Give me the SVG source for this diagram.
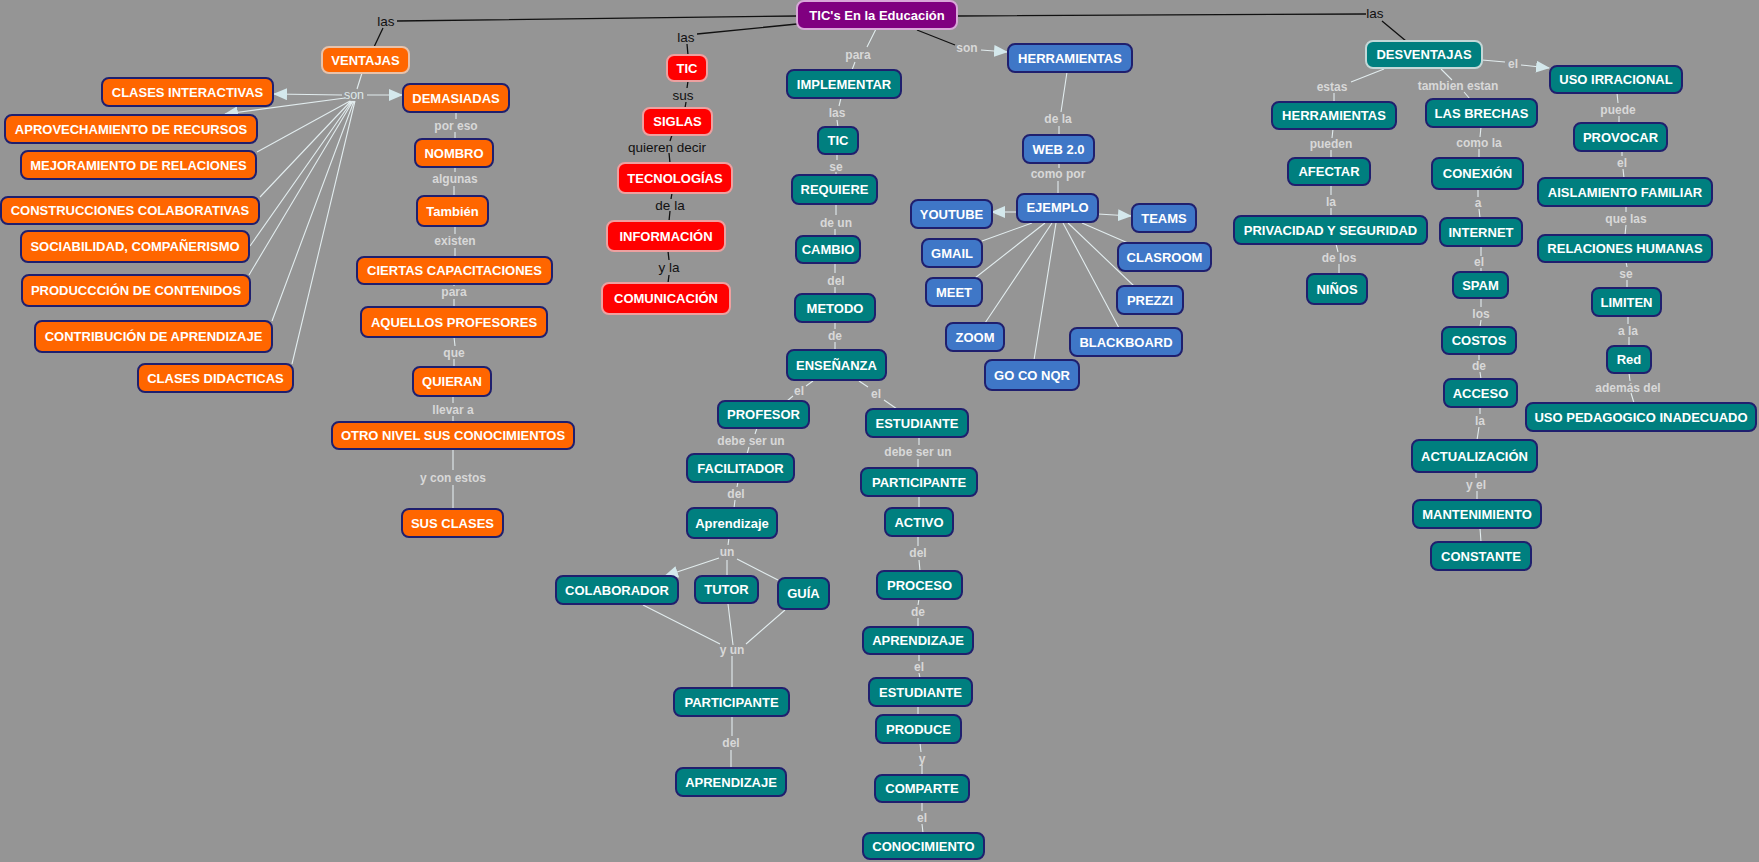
<svg xmlns="http://www.w3.org/2000/svg" width="1759" height="862" viewBox="0 0 1759 862">
<style>
.bg{fill:#959595}
rect{stroke:#1f1f6e;stroke-width:2}
.o rect{fill:#ff6600}
.t rect{fill:#007f7f}
.b rect{fill:#3f77c7}
.r rect{fill:#ff0000;stroke:#eea0a0}
.p rect{fill:#800080;stroke:#d8a8d8}
.mo rect{stroke:#e8c2aa}
.mt rect{stroke:#c4d8d8}
text{font-family:"Liberation Sans",Arial,sans-serif}
.n text{fill:#ffffff;font-size:13px;font-weight:bold;text-anchor:middle}
.l{fill:#d8d8d8;font-size:12px;font-weight:bold;text-anchor:middle}
.k{fill:#111111;font-size:13.5px;text-anchor:middle}
.w{stroke:#e2ecee;stroke-width:1.1;fill:none}
.d{stroke:#111111;stroke-width:1.3;fill:none}
.a{marker-end:url(#ah)}
</style>
<defs>
<marker id="ah" markerUnits="userSpaceOnUse" markerWidth="14" markerHeight="12" refX="13" refY="6" orient="auto">
<path d="M0,0 L14,6 L0,12 z" fill="#d4e8ec"/>
</marker>
</defs>
<rect class="bg" x="0" y="0" width="1759" height="862" style="stroke:none"/>

<g id="connectors">
<!-- black -->
<path class="d" d="M797,16 L397,21 M383,28 L374,47"/>
<path class="d" d="M797,24 L697,34 M687,44 L688,55"/>
<path class="d" d="M688,81 L687,88 M686,102 L685,108"/>
<path class="d" d="M672,135 L670,141 M669,153 L670,163"/>
<path class="d" d="M672,193 L671,199 M670,211 L669,221"/>
<path class="d" d="M668,251 L669,260 M669,275 L668,283"/>
<path class="d" d="M957,16 L1366,14 M1382,21 L1406,41"/>
<path class="d" d="M917,30 L955,45"/>
<text class="k" x="386" y="26">las</text>
<text class="k" x="686" y="42">las</text>
<text class="k" x="683" y="100">sus</text>
<text class="k" x="667" y="152">quieren decir</text>
<text class="k" x="670" y="210">de la</text>
<text class="k" x="669" y="272">y la</text>
<text class="k" x="1375" y="18">las</text>

<!-- VENTAJAS -->
<path class="w" d="M362,73 L357,89"/>
<path class="w a" d="M342,95 L274,94"/>
<path class="w a" d="M367,95 L402,95"/>
<path class="w a" d="M345,98 L225,114"/>
<path class="w" d="M350,101 L257,152 M351,101 L260,197 M352,101 L250,246 M353,101 L249,275 M354,101 L272,321 M355,101 L292,364"/>
<text class="l" x="354" y="99" style="fill:#dde8ea;font-weight:normal;font-size:12.5px">son</text>
<path class="w" d="M456,112 L456,119 M455,132 L455,139"/>
<text class="l" x="456" y="130">por eso</text>
<path class="w" d="M455,167 L455,172 M454,186 L454,196"/>
<text class="l" x="455" y="183">algunas</text>
<path class="w" d="M455,226 L455,234 M455,248 L455,257"/>
<text class="l" x="455" y="245">existen</text>
<path class="w" d="M454,283 L454,286 M454,299 L454,307"/>
<text class="l" x="454" y="296">para</text>
<path class="w" d="M454,337 L455,346 M454,359 L454,367"/>
<text class="l" x="454" y="357">que</text>
<path class="w" d="M453,396 L453,403 M453,416 L453,422"/>
<text class="l" x="453" y="414">llevar a</text>
<path class="w" d="M453,449 L453,470 M453,485 L453,509"/>
<text class="l" x="453" y="482">y con estos</text>

<!-- middle -->
<path class="w" d="M876,29 L867,47 M855,62 L852,70"/>
<text class="l" x="858" y="59">para</text>
<path class="w" d="M841,98 L839,106 M837,120 L838,127"/>
<text class="l" x="837" y="117">las</text>
<path class="w" d="M837,154 L837,160 M836,172 L836,175"/>
<text class="l" x="836" y="171">se</text>
<path class="w" d="M836,204 L836,215 M835,229 L835,236"/>
<text class="l" x="836" y="227">de un</text>
<path class="w" d="M835,263 L835,273 M835,287 L835,294"/>
<text class="l" x="836" y="285">del</text>
<path class="w" d="M835,322 L835,329 M835,342 L835,350"/>
<text class="l" x="835" y="340">de</text>
<path class="w" d="M813,381 L806,386 M793,396 L787,401"/>
<text class="l" x="799" y="395">el</text>
<path class="w" d="M859,381 L868,387 M884,400 L897,409"/>
<text class="l" x="876" y="398">el</text>
<path class="w" d="M757,428 L755,434 M749,447 L747,454"/>
<text class="l" x="751" y="445">debe ser un</text>
<path class="w" d="M738,482 L737,487 M735,500 L734,508"/>
<text class="l" x="736" y="498">del</text>
<path class="w" d="M729,538 L728,545"/>
<text class="l" x="727" y="556">un</text>
<path class="w a" d="M719,558 L665,576"/>
<path class="w" d="M727,560 L727,576 M737,559 L778,580"/>
<path class="w" d="M643,605 L720,644 M728,604 L733,645 M785,610 L746,644 M732,656 L732,688"/>
<text class="l" x="732" y="654">y un</text>
<path class="w" d="M732,716 L732,736 M731,750 L731,768"/>
<text class="l" x="731" y="747">del</text>
<path class="w" d="M919,437 L919,445 M918,459 L918,468"/>
<text class="l" x="918" y="456">debe ser un</text>
<path class="w" d="M919,496 L919,508"/>
<path class="w" d="M918,536 L918,546 M919,560 L920,571"/>
<text class="l" x="918" y="557">del</text>
<path class="w" d="M919,599 L918,605 M918,618 L918,627"/>
<text class="l" x="918" y="616">de</text>
<path class="w" d="M919,654 L919,661 M919,673 L920,678"/>
<text class="l" x="919" y="671">el</text>
<path class="w" d="M918,706 L918,715"/>
<path class="w" d="M920,743 L921,752 M922,765 L922,775"/>
<text class="l" x="922" y="763">y</text>
<path class="w" d="M922,802 L922,811 M922,824 L923,833"/>
<text class="l" x="922" y="822">el</text>

<!-- herramientas -->
<path class="w a" d="M981,50 L1007,52"/>
<text class="l" x="967" y="52">son</text>
<path class="w" d="M1067,72 L1061,112 M1059,126 L1059,135"/>
<text class="l" x="1058" y="123">de la</text>
<path class="w" d="M1059,163 L1059,168 M1058,181 L1058,194"/>
<text class="l" x="1058" y="178">como por</text>
<path class="w a" d="M1017,212 L992,212"/>
<path class="w a" d="M1098,214 L1131,216"/>
<path class="w" d="M1032,223 L982,241 M1045,223 L975,278 M1052,223 L985,323 M1056,223 L1034,360 M1063,223 L1119,328 M1068,223 L1134,286 M1082,223 L1128,243"/>

<!-- desventajas -->
<path class="w" d="M1482,60 L1505,62"/>
<path class="w a" d="M1521,65 L1549,68"/>
<text class="l" x="1513" y="68">el</text>
<path class="w" d="M1384,69 L1351,82 M1334,93 L1334,102"/>
<text class="l" x="1332" y="91">estas</text>
<path class="w" d="M1333,129 L1332,138 M1331,150 L1331,158"/>
<text class="l" x="1331" y="148">pueden</text>
<path class="w" d="M1331,185 L1331,195 M1331,208 L1331,216"/>
<text class="l" x="1331" y="206">la</text>
<path class="w" d="M1336,244 L1338,252 M1339,264 L1339,274"/>
<text class="l" x="1339" y="262">de los</text>
<path class="w" d="M1441,69 L1452,80 M1464,92 L1470,99"/>
<text class="l" x="1458" y="90">tambien estan</text>
<path class="w" d="M1481,127 L1480,137 M1479,149 L1479,158"/>
<text class="l" x="1479" y="147">como la</text>
<path class="w" d="M1478,189 L1478,197 M1479,209 L1480,218"/>
<text class="l" x="1478" y="207">a</text>
<path class="w" d="M1481,246 L1481,256 M1481,268 L1481,272"/>
<text class="l" x="1479" y="266">el</text>
<path class="w" d="M1481,298 L1481,307 M1481,320 L1480,327"/>
<text class="l" x="1481" y="318">los</text>
<path class="w" d="M1479,354 L1479,360 M1480,372 L1481,379"/>
<text class="l" x="1479" y="370">de</text>
<path class="w" d="M1480,407 L1480,414 M1479,427 L1477,440"/>
<text class="l" x="1480" y="425">la</text>
<path class="w" d="M1476,472 L1476,478 M1477,491 L1477,500"/>
<text class="l" x="1476" y="489">y el</text>
<path class="w" d="M1480,528 L1481,542"/>
<path class="w" d="M1617,93 L1618,103 M1619,116 L1619,123"/>
<text class="l" x="1618" y="114">puede</text>
<path class="w" d="M1622,151 L1622,156 M1623,169 L1624,178"/>
<text class="l" x="1622" y="167">el</text>
<path class="w" d="M1626,206 L1626,212 M1626,225 L1625,235"/>
<text class="l" x="1626" y="223">que las</text>
<path class="w" d="M1626,262 L1627,267 M1627,280 L1627,288"/>
<text class="l" x="1626" y="278">se</text>
<path class="w" d="M1628,316 L1628,324 M1629,337 L1629,346"/>
<text class="l" x="1628" y="335">a la</text>
<path class="w" d="M1629,373 L1630,381 M1631,393 L1634,403"/>
<text class="l" x="1628" y="392">además del</text>
</g>

<!-- title -->
<g id="n-title" class="n p"><rect x="797" y="1" width="160" height="28" rx="7"/><text x="877" y="20">TIC's En la Educación</text></g>

<!-- ventajas -->
<g id="n-ventajas" class="n o mo"><rect x="322" y="47" width="87" height="26" rx="7"/><text x="365.5" y="64.5">VENTAJAS</text></g>
<g id="n-clases-int" class="n o"><rect x="102" y="78" width="171" height="28" rx="7"/><text x="187.5" y="96.5">CLASES INTERACTIVAS</text></g>
<g id="n-aprov" class="n o"><rect x="5" y="115" width="252" height="28" rx="7"/><text x="131" y="133.5">APROVECHAMIENTO DE RECURSOS</text></g>
<g id="n-mejor" class="n o"><rect x="21" y="151" width="235" height="28" rx="7"/><text x="138.5" y="169.5">MEJORAMIENTO DE RELACIONES</text></g>
<g id="n-constr" class="n o"><rect x="1" y="197" width="258" height="27" rx="7"/><text x="130" y="215">CONSTRUCCIONES COLABORATIVAS</text></g>
<g id="n-socia" class="n o"><rect x="21" y="231" width="228" height="31" rx="7"/><text x="135" y="251">SOCIABILIDAD, COMPAÑERISMO</text></g>
<g id="n-produc" class="n o"><rect x="22" y="275" width="228" height="31" rx="7"/><text x="136" y="295">PRODUCCCIÓN DE CONTENIDOS</text></g>
<g id="n-contrib" class="n o"><rect x="35" y="321" width="237" height="31" rx="7"/><text x="153.5" y="341">CONTRIBUCIÓN DE APRENDIZAJE</text></g>
<g id="n-clases-did" class="n o"><rect x="138" y="364" width="155" height="28" rx="7"/><text x="215.5" y="382.5">CLASES DIDACTICAS</text></g>
<g id="n-demas" class="n o"><rect x="403" y="84" width="106" height="28" rx="7"/><text x="456" y="102.5">DEMASIADAS</text></g>
<g id="n-nombro" class="n o"><rect x="415" y="139" width="78" height="28" rx="7"/><text x="454" y="157.5">NOMBRO</text></g>
<g id="n-tambien" class="n o"><rect x="417" y="196" width="71" height="30" rx="7"/><text x="452.5" y="215.5">También</text></g>
<g id="n-ciertas" class="n o"><rect x="357" y="257" width="195" height="27" rx="7"/><text x="454.5" y="275">CIERTAS CAPACITACIONES</text></g>
<g id="n-aquellos" class="n o"><rect x="361" y="307" width="186" height="30" rx="7"/><text x="454" y="326.5">AQUELLOS PROFESORES</text></g>
<g id="n-quieran" class="n o"><rect x="413" y="367" width="78" height="29" rx="7"/><text x="452" y="386">QUIERAN</text></g>
<g id="n-otro" class="n o"><rect x="332" y="422" width="242" height="27" rx="7"/><text x="453" y="440">OTRO NIVEL SUS CONOCIMIENTOS</text></g>
<g id="n-sus-clases" class="n o"><rect x="402" y="509" width="101" height="28" rx="7"/><text x="452.5" y="527.5">SUS CLASES</text></g>

<!-- TIC red -->
<g id="n-tic-r" class="n r"><rect x="667" y="55" width="40" height="26" rx="7"/><text x="687" y="72.5">TIC</text></g>
<g id="n-siglas" class="n r"><rect x="643" y="108" width="69" height="27" rx="7"/><text x="677.5" y="126">SIGLAS</text></g>
<g id="n-tecno" class="n r"><rect x="618" y="163" width="114" height="30" rx="7"/><text x="675" y="182.5">TECNOLOGÍAS</text></g>
<g id="n-info" class="n r"><rect x="607" y="221" width="118" height="30" rx="7"/><text x="666" y="240.5">INFORMACIÓN</text></g>
<g id="n-comun" class="n r"><rect x="602" y="283" width="128" height="31" rx="7"/><text x="666" y="303">COMUNICACIÓN</text></g>

<!-- middle teal -->
<g id="n-implem" class="n t"><rect x="787" y="70" width="114" height="28" rx="7"/><text x="844" y="88.5">IMPLEMENTAR</text></g>
<g id="n-tic-t" class="n t"><rect x="818" y="127" width="40" height="27" rx="7"/><text x="838" y="145">TIC</text></g>
<g id="n-requiere" class="n t"><rect x="792" y="175" width="85" height="29" rx="7"/><text x="834.5" y="194">REQUIERE</text></g>
<g id="n-cambio" class="n t"><rect x="796" y="236" width="64" height="27" rx="7"/><text x="828" y="254">CAMBIO</text></g>
<g id="n-metodo" class="n t"><rect x="795" y="294" width="80" height="28" rx="7"/><text x="835" y="312.5">METODO</text></g>
<g id="n-ensenanza" class="n t"><rect x="787" y="350" width="99" height="30" rx="7"/><text x="836.5" y="369.5">ENSEÑANZA</text></g>
<g id="n-profesor" class="n t"><rect x="718" y="401" width="91" height="27" rx="7"/><text x="763.5" y="419">PROFESOR</text></g>
<g id="n-facil" class="n t"><rect x="687" y="454" width="107" height="28" rx="7"/><text x="740.5" y="472.5">FACILITADOR</text></g>
<g id="n-aprend1" class="n t"><rect x="687" y="508" width="90" height="30" rx="7"/><text x="732" y="527.5">Aprendizaje</text></g>
<g id="n-colab" class="n t"><rect x="556" y="576" width="122" height="28" rx="7"/><text x="617" y="594.5">COLABORADOR</text></g>
<g id="n-tutor" class="n t"><rect x="695" y="576" width="63" height="27" rx="7"/><text x="726.5" y="594">TUTOR</text></g>
<g id="n-guia" class="n t"><rect x="778" y="578" width="51" height="31" rx="7"/><text x="803.5" y="598">GUÍA</text></g>
<g id="n-partic1" class="n t"><rect x="674" y="688" width="115" height="28" rx="7"/><text x="731.5" y="706.5">PARTICIPANTE</text></g>
<g id="n-aprend2" class="n t"><rect x="676" y="768" width="110" height="28" rx="7"/><text x="731" y="786.5">APRENDIZAJE</text></g>
<g id="n-estud1" class="n t"><rect x="866" y="409" width="102" height="28" rx="7"/><text x="917" y="427.5">ESTUDIANTE</text></g>
<g id="n-partic2" class="n t"><rect x="861" y="468" width="116" height="28" rx="7"/><text x="919" y="486.5">PARTICIPANTE</text></g>
<g id="n-activo" class="n t"><rect x="885" y="508" width="68" height="28" rx="7"/><text x="919" y="526.5">ACTIVO</text></g>
<g id="n-proceso" class="n t"><rect x="877" y="571" width="85" height="28" rx="7"/><text x="919.5" y="589.5">PROCESO</text></g>
<g id="n-aprend3" class="n t"><rect x="863" y="627" width="110" height="27" rx="7"/><text x="918" y="645">APRENDIZAJE</text></g>
<g id="n-estud2" class="n t"><rect x="869" y="678" width="103" height="28" rx="7"/><text x="920.5" y="696.5">ESTUDIANTE</text></g>
<g id="n-produce" class="n t"><rect x="876" y="715" width="85" height="28" rx="7"/><text x="918.5" y="733.5">PRODUCE</text></g>
<g id="n-comparte" class="n t"><rect x="875" y="775" width="94" height="27" rx="7"/><text x="922" y="793">COMPARTE</text></g>
<g id="n-conoc" class="n t"><rect x="863" y="833" width="121" height="26" rx="7"/><text x="923.5" y="850.5">CONOCIMIENTO</text></g>

<!-- blue -->
<g id="n-herr" class="n b"><rect x="1008" y="44" width="124" height="28" rx="7"/><text x="1070" y="62.5">HERRAMIENTAS</text></g>
<g id="n-web" class="n b"><rect x="1023" y="135" width="71" height="28" rx="7"/><text x="1058.5" y="153.5">WEB 2.0</text></g>
<g id="n-ejemplo" class="n b"><rect x="1017" y="194" width="81" height="28" rx="7"/><text x="1057.5" y="212">EJEMPLO</text></g>
<g id="n-youtube" class="n b"><rect x="911" y="200" width="81" height="28" rx="7"/><text x="951.5" y="218.5">YOUTUBE</text></g>
<g id="n-teams" class="n b"><rect x="1132" y="204" width="64" height="28" rx="7"/><text x="1164" y="222.5">TEAMS</text></g>
<g id="n-gmail" class="n b"><rect x="922" y="239" width="60" height="28" rx="7"/><text x="952" y="257.5">GMAIL</text></g>
<g id="n-clasroom" class="n b"><rect x="1118" y="243" width="93" height="28" rx="7"/><text x="1164.5" y="261.5">CLASROOM</text></g>
<g id="n-meet" class="n b"><rect x="926" y="278" width="56" height="28" rx="7"/><text x="954" y="296.5">MEET</text></g>
<g id="n-prezzi" class="n b"><rect x="1117" y="286" width="66" height="28" rx="7"/><text x="1150" y="304.5">PREZZI</text></g>
<g id="n-zoom" class="n b"><rect x="946" y="323" width="58" height="28" rx="7"/><text x="975" y="341.5">ZOOM</text></g>
<g id="n-black" class="n b"><rect x="1070" y="328" width="112" height="28" rx="7"/><text x="1126" y="346.5">BLACKBOARD</text></g>
<g id="n-goco" class="n b"><rect x="985" y="360" width="94" height="30" rx="7"/><text x="1032" y="379.5">GO CO NQR</text></g>

<!-- desventajas -->
<g id="n-desv" class="n t mt"><rect x="1366" y="41" width="116" height="27" rx="7"/><text x="1424" y="59">DESVENTAJAS</text></g>
<g id="n-uso-irr" class="n t"><rect x="1550" y="66" width="132" height="27" rx="7"/><text x="1616" y="84">USO IRRACIONAL</text></g>
<g id="n-provocar" class="n t"><rect x="1574" y="123" width="93" height="28" rx="7"/><text x="1620.5" y="141.5">PROVOCAR</text></g>
<g id="n-aisla" class="n t"><rect x="1538" y="178" width="174" height="28" rx="7"/><text x="1625" y="196.5">AISLAMIENTO FAMILIAR</text></g>
<g id="n-relac" class="n t"><rect x="1538" y="235" width="174" height="27" rx="7"/><text x="1625" y="253">RELACIONES HUMANAS</text></g>
<g id="n-limiten" class="n t"><rect x="1592" y="288" width="69" height="28" rx="7"/><text x="1626.5" y="306.5">LIMITEN</text></g>
<g id="n-red" class="n t"><rect x="1607" y="346" width="44" height="27" rx="7"/><text x="1629" y="364">Red</text></g>
<g id="n-uso-ped" class="n t"><rect x="1526" y="403" width="230" height="28" rx="7"/><text x="1641" y="421.5">USO PEDAGOGICO INADECUADO</text></g>
<g id="n-herr2" class="n t"><rect x="1272" y="102" width="124" height="27" rx="7"/><text x="1334" y="120">HERRAMIENTAS</text></g>
<g id="n-afectar" class="n t"><rect x="1288" y="158" width="82" height="27" rx="7"/><text x="1329" y="176">AFECTAR</text></g>
<g id="n-priv" class="n t"><rect x="1234" y="216" width="193" height="28" rx="7"/><text x="1330.5" y="234.5">PRIVACIDAD Y SEGURIDAD</text></g>
<g id="n-ninos" class="n t"><rect x="1307" y="274" width="60" height="30" rx="7"/><text x="1337" y="293.5">NIÑOS</text></g>
<g id="n-brechas" class="n t"><rect x="1426" y="99" width="111" height="28" rx="7"/><text x="1481.5" y="117.5">LAS BRECHAS</text></g>
<g id="n-conexion" class="n t"><rect x="1432" y="158" width="91" height="31" rx="7"/><text x="1477.5" y="178">CONEXIÓN</text></g>
<g id="n-internet" class="n t"><rect x="1440" y="218" width="82" height="28" rx="7"/><text x="1481" y="236.5">INTERNET</text></g>
<g id="n-spam" class="n t"><rect x="1453" y="272" width="55" height="26" rx="7"/><text x="1480.5" y="289.5">SPAM</text></g>
<g id="n-costos" class="n t"><rect x="1442" y="327" width="74" height="27" rx="7"/><text x="1479" y="345">COSTOS</text></g>
<g id="n-acceso" class="n t"><rect x="1444" y="379" width="73" height="28" rx="7"/><text x="1480.5" y="397.5">ACCESO</text></g>
<g id="n-actual" class="n t"><rect x="1412" y="440" width="125" height="32" rx="7"/><text x="1474.5" y="460.5">ACTUALIZACIÓN</text></g>
<g id="n-mant" class="n t"><rect x="1413" y="500" width="128" height="28" rx="7"/><text x="1477" y="518.5">MANTENIMIENTO</text></g>
<g id="n-const" class="n t"><rect x="1431" y="542" width="100" height="28" rx="7"/><text x="1481" y="560.5">CONSTANTE</text></g>
</svg>
